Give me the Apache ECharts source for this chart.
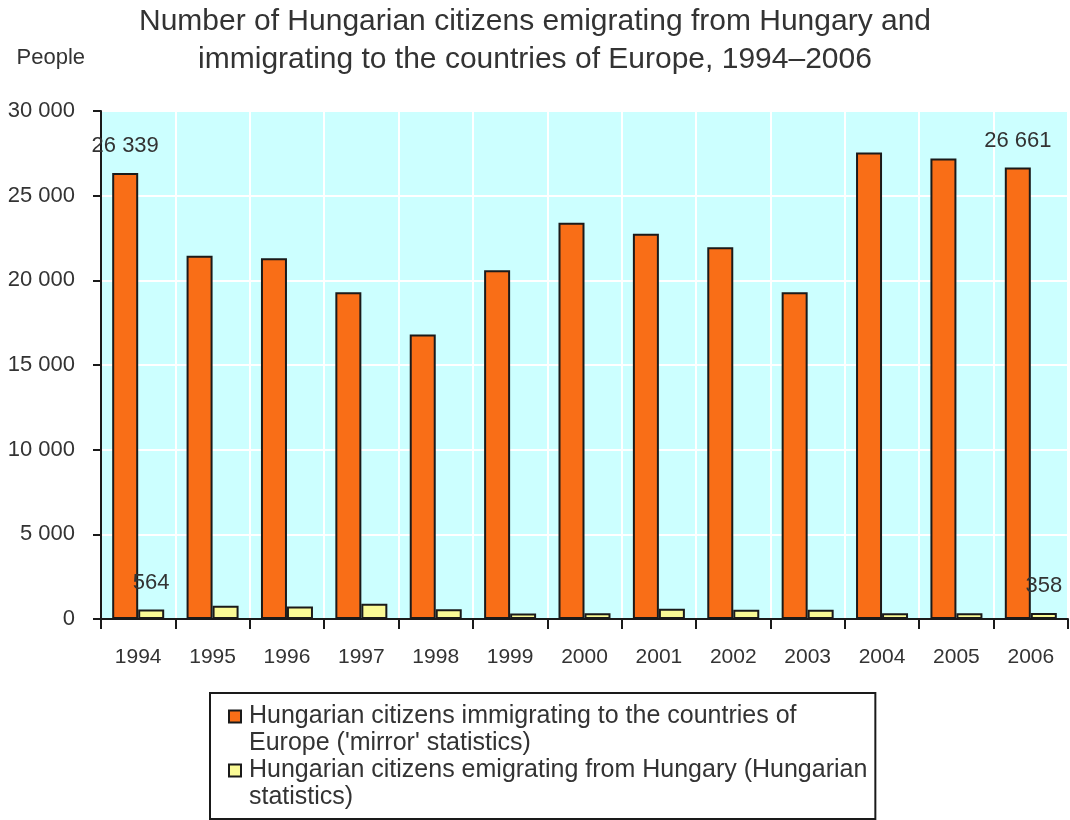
<!DOCTYPE html>
<html>
<head>
<meta charset="utf-8">
<script src="https://cdn.jsdelivr.net/npm/echarts@6/dist/echarts.min.js"></script>
<style>
  html, body { margin: 0; padding: 0; background: #fff; }
  #chart { width: 1070px; height: 820px; }
</style>
</head>
<body>
<div id="chart"></div>
<script>
// values (people)
const years = ['1994', '1995', '1996', '1997', '1998', '1999', '2000', '2001', '2002', '2003', '2004', '2005', '2006'];
const mirrorStats = [26339, 21450, 21300, 19300, 16800, 20600, 23400, 22750, 21950, 19300, 27550, 27200, 26661];
const hungarianStats = [564, 780, 745, 900, 570, 330, 345, 600, 550, 550, 340, 340, 358];
// only the first and last year carry a value label
const labelledYears = ['1994', '2006'];

const mirrorName = "Hungarian citizens immigrating to the countries of Europe ('mirror' statistics)";
const hungarianName = 'Hungarian citizens emigrating from Hungary (Hungarian statistics)';
const legendText = {
  [mirrorName]: "Hungarian citizens immigrating to the countries of\nEurope ('mirror' statistics)",
  [hungarianName]: 'Hungarian citizens emigrating from Hungary (Hungarian\nstatistics)'
};

const font = '"Liberation Sans", Arial, sans-serif';
const textColor = '#333';

// 30000 -> "30 000"
const spaced = (v) => String(v).replace(/\B(?=(\d{3})+(?!\d))/g, ' ');

const withLabels = (values) => values.map((v, i) => ({
  value: v,
  label: { show: labelledYears.indexOf(years[i]) >= 0 }
}));

const barLabel = {
  position: 'top',
  distance: 16,
  color: textColor,
  fontFamily: font,
  fontSize: 22,
  formatter: (p) => spaced(p.value)
};

const chart = echarts.init(document.getElementById('chart'), null, { renderer: 'canvas' });

chart.setOption({
  animation: false,
  backgroundColor: '#fff',
  title: {
    text: 'Number of Hungarian citizens emigrating from Hungary and\nimmigrating to the countries of Europe, 1994\u20132006',
    left: 'center',
    top: 3,
    padding: 0,
    textStyle: {
      fontFamily: font,
      fontSize: 30,
      fontWeight: 'normal',
      color: textColor,
      lineHeight: 38
    }
  },
  legend: {
    orient: 'vertical',
    left: 210,
    top: 693,
    padding: [10, 8, 8, 18],
    itemGap: 0,
    itemWidth: 12,
    itemHeight: 39,
    // square sitting at the top of a taller box, so it lines up with the first text line
    icon: 'path://M0,0H10V10H0ZM0,32.5',
    backgroundColor: '#fff',
    borderColor: '#1a1a1a',
    borderWidth: 2,
    borderRadius: 0,
    formatter: (name) => legendText[name],
    textStyle: {
      fontFamily: font,
      fontSize: 25,
      lineHeight: 27,
      color: textColor,
      padding: [0, 0, 0, 3]
    },
    data: [mirrorName, hungarianName]
  },
  grid: {
    left: 101,
    right: 2,
    top: 111,
    bottom: 201,
    show: true,
    backgroundColor: '#ccffff',
    borderWidth: 0
  },
  xAxis: {
    type: 'category',
    data: years,
    axisLine: { lineStyle: { color: '#1a1a1a', width: 2 } },
    axisTick: { show: true, length: 10, lineStyle: { color: '#1a1a1a', width: 2 } },
    splitLine: { show: true, lineStyle: { color: '#fff', width: 2 } },
    axisLabel: {
      margin: 28,
      fontFamily: font,
      fontSize: 21,
      color: textColor
    }
  },
  yAxis: {
    type: 'value',
    min: 0,
    max: 30000,
    interval: 5000,
    name: 'People',
    nameLocation: 'end',
    nameGap: 42,
    nameTextStyle: {
      fontFamily: font,
      fontSize: 22,
      color: textColor,
      align: 'right',
      padding: [0, 16, 0, 0]
    },
    axisLine: { show: true, lineStyle: { color: '#1a1a1a', width: 2 } },
    axisTick: { show: true, length: 8, lineStyle: { color: '#1a1a1a', width: 2 } },
    splitLine: { show: true, lineStyle: { color: '#fff', width: 2 } },
    axisLabel: {
      margin: 26,
      fontFamily: font,
      fontSize: 22,
      color: textColor,
      formatter: spaced
    }
  },
  series: [
    {
      name: mirrorName,
      type: 'bar',
      data: withLabels(mirrorStats),
      barWidth: 26,
      barGap: '0%',
      itemStyle: { color: '#f96e17', borderColor: '#1a1a1a', borderWidth: 2 },
      label: barLabel
    },
    {
      name: hungarianName,
      type: 'bar',
      data: withLabels(hungarianStats),
      barWidth: 26,
      barGap: '0%',
      itemStyle: { color: '#fafa96', borderColor: '#1a1a1a', borderWidth: 2 },
      label: barLabel
    }
  ]
});
</script>
</body>
</html>
